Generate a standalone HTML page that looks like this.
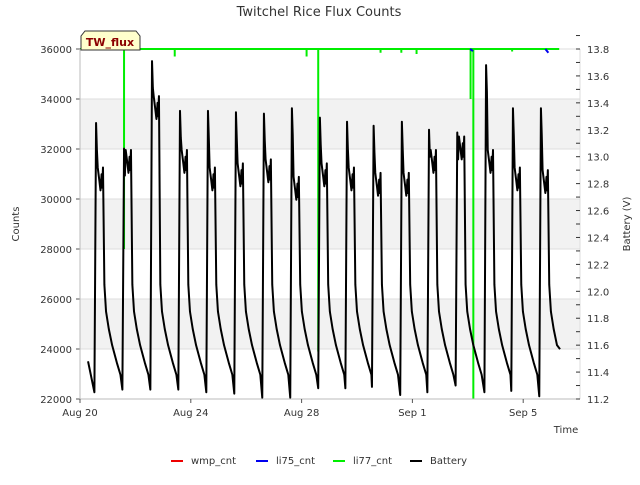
<!DOCTYPE html>
<html><head><meta charset="utf-8"><style>
body{margin:0;background:#fff;}
svg text{font-family:"DejaVu Sans","Liberation Sans",sans-serif;}
</style></head><body>
<svg id="c" width="640" height="480" xmlns="http://www.w3.org/2000/svg">
<text x="319" y="16" text-anchor="middle" font-size="13" fill="#333">Twitchel Rice Flux Counts</text>
<g id="grid"></g>
<g id="series"></g>
<g id="axes"></g>
<text x="19" y="224" font-size="10" fill="#333" text-anchor="middle" transform="rotate(-90 19 224)">Counts</text>
<text x="630" y="224" font-size="10" fill="#333" text-anchor="middle" transform="rotate(-90 630 224)">Battery (V)</text>
<text x="566" y="433" font-size="10" fill="#333" text-anchor="middle">Time</text>
<g>
<path d="M81,50 L81,36 L85,31 L136,31 L140,36 L140,50 Z" fill="#ffffcc" stroke="#333" stroke-width="1"/>
<text x="110" y="46" font-size="11" font-weight="bold" fill="#8b0000" text-anchor="middle">TW_flux</text>
</g>
<g id="legend"></g>
</svg>
<script>
const NS='http://www.w3.org/2000/svg';
// data
const countTicks=[22000,24000,26000,28000,30000,32000,34000,36000];
const voltTicks=[11.2,11.4,11.6,11.8,12.0,12.2,12.4,12.6,12.8,13.0,13.2,13.4,13.6,13.8];
const dateLabels=['Aug 20','Aug 24','Aug 28','Sep 1','Sep 5'];
const dateDays=[0,4,8,12,16];
const peakTimes=[0.58,1.59,2.6,3.61,4.62,5.63,6.64,7.65,8.66,9.64,10.6,11.62,12.6,13.62,14.66,15.63,16.64];
const peakVolts=[13.25,13.06,13.71,13.34,13.34,13.33,13.32,13.36,13.29,13.26,13.23,13.26,13.2,13.18,13.68,13.36,13.36];
const plateauVolts=[12.82,12.95,13.35,12.95,12.82,12.85,12.88,12.75,12.85,12.82,12.78,12.78,12.95,13.05,12.95,12.82,12.8];
const minVolts=[11.25,11.27,11.27,11.27,11.25,11.24,11.21,11.21,11.28,11.28,11.29,11.23,11.25,11.3,11.25,11.26,11.22];
const battStart=[0.29,11.48];
const battEnd=[17.33,11.57];
const li77Range=[0,17.3];
const li77Base=36000;
const li77SpikeTimes=[1.59,3.42,8.18,8.6,10.85,11.6,12.15,14.1,14.2,15.6];
const li77SpikeMins=[28000,35700,35700,23900,35850,35850,35800,34000,22000,35900];
const li75Times=[14.08,16.8];
const li75Mins=[35920,35850];

const X0=80,X1=580,Y0=399,Y1=49,PXD=27.7;
const xs=d=>X0+d*PXD;
const yc=v=>Y0-(v-22000)*(Y0-Y1)/14000;
const yv=v=>Y0-(v-11.2)*(Y0-Y1)/2.6;
const grid=document.getElementById('grid'),axes=document.getElementById('axes'),ser=document.getElementById('series');
function mk(p,tag,at){const e=document.createElementNS(NS,tag);for(const k in at)e.setAttribute(k,at[k]);p.appendChild(e);return e;}
for(let i=1;i<countTicks.length-1;i+=2){
 const r=mk(grid,'rect',{x:X0,y:yc(countTicks[i+1]),width:X1-X0,height:yc(countTicks[i])-yc(countTicks[i+1]),fill:'#f2f2f2'});
 
 
}
countTicks.forEach(v=>{
 const l=mk(grid,'line',{x1:X0,x2:X1,y1:yc(v),y2:yc(v),stroke:'#ddd','stroke-width':1});
 
 
 const t=mk(axes,'text',{x:72,y:yc(v)+4,'font-size':10,fill:'#333','text-anchor':'end'});t.textContent=v;
 
 
 mk(axes,'line',{x1:X0-4,x2:X0,y1:yc(v),y2:yc(v),stroke:'#555'});
});
mk(axes,'line',{x1:X0,x2:X0,y1:Y1,y2:Y0,stroke:'#bbb'});
mk(axes,'line',{x1:X0,x2:X1,y1:Y0,y2:Y0,stroke:'#bbb'});
mk(axes,'line',{x1:X1,x2:X1,y1:Y1,y2:Y0,stroke:'#ddd'});
voltTicks.forEach(v=>{
 const t=mk(axes,'text',{x:587,y:yv(v)+4,'font-size':10,fill:'#333'});t.textContent=v.toFixed(1);
 
 
 mk(axes,'line',{x1:X1-4,x2:X1,y1:yv(v),y2:yv(v),stroke:'#333'});
 mk(axes,'line',{x1:X1-4,x2:X1,y1:yv(v+0.1),y2:yv(v+0.1),stroke:'#333'});
});
dateDays.forEach((d,i)=>{
 const t=mk(axes,'text',{x:xs(d),y:416,'font-size':10,fill:'#333','text-anchor':'middle'});t.textContent=dateLabels[i];
 
 
 mk(axes,'line',{x1:xs(d),x2:xs(d),y1:Y0,y2:Y0+4,stroke:'#555'});
});
// li77
const gl=mk(ser,'line',{x1:xs(li77Range[0]),x2:xs(li77Range[1]),y1:yc(li77Base),y2:yc(li77Base),stroke:'#00ee00','stroke-width':2});


li77SpikeTimes.forEach((t,i)=>{
 const s=mk(ser,'line',{x1:xs(t),x2:xs(t),y1:yc(li77Base),y2:yc(li77SpikeMins[i]),stroke:'#00ee00','stroke-width':2});
 
 
});
li75Times.forEach((t,i)=>{
 const s=mk(ser,'line',{x1:xs(t),x2:xs(t)+3,y1:yc(li77Base),y2:yc(li75Mins[i]),stroke:'#0000ee','stroke-width':2});
 
 
});
// battery
const pts=[battStart];
peakTimes.forEach((pt,i)=>{
 const pv=peakVolts[i],pl=plateauVolts[i],last=i===peakTimes.length-1;
 pts.push([pt-0.06,minVolts[i]],[pt,pv],[pt+0.03,pv-0.2],[pt+0.06,pl+0.1],[pt+0.12,pl],[pt+0.16,pl-0.07],[pt+0.2,pl+0.05],[pt+0.22,pl-0.05],[pt+0.25,pl+0.1],[pt+0.3,12.05],[pt+0.36,11.85],[pt+0.46,11.72],[pt+0.58,11.6]);
 if(!last)pts.push([pt+0.75,11.47],[pt+0.88,11.38]);
});
pts.push(battEnd);
const p=pts.map(q=>xs(q[0])+','+yv(q[1])).join(' ');
const bl=mk(ser,'polyline',{points:p,fill:'none',stroke:'#000','stroke-width':2,'stroke-linejoin':'round'});


// legend
const leg=document.getElementById('legend');
const names=['wmp_cnt','li75_cnt','li77_cnt','Battery'],cols=['#ee0000','#0000ee','#00ee00','#000'],lx=[171,256,333,410];
names.forEach((n,i)=>{
 const gg=mk(leg,'g',{});
 
 
 mk(gg,'line',{x1:lx[i],x2:lx[i]+12,y1:461,y2:461,stroke:cols[i],'stroke-width':2});
 const t=mk(gg,'text',{x:lx[i]+20,y:464,'font-size':10,fill:'#333'});t.textContent=n;
});
</script>
</body></html>
